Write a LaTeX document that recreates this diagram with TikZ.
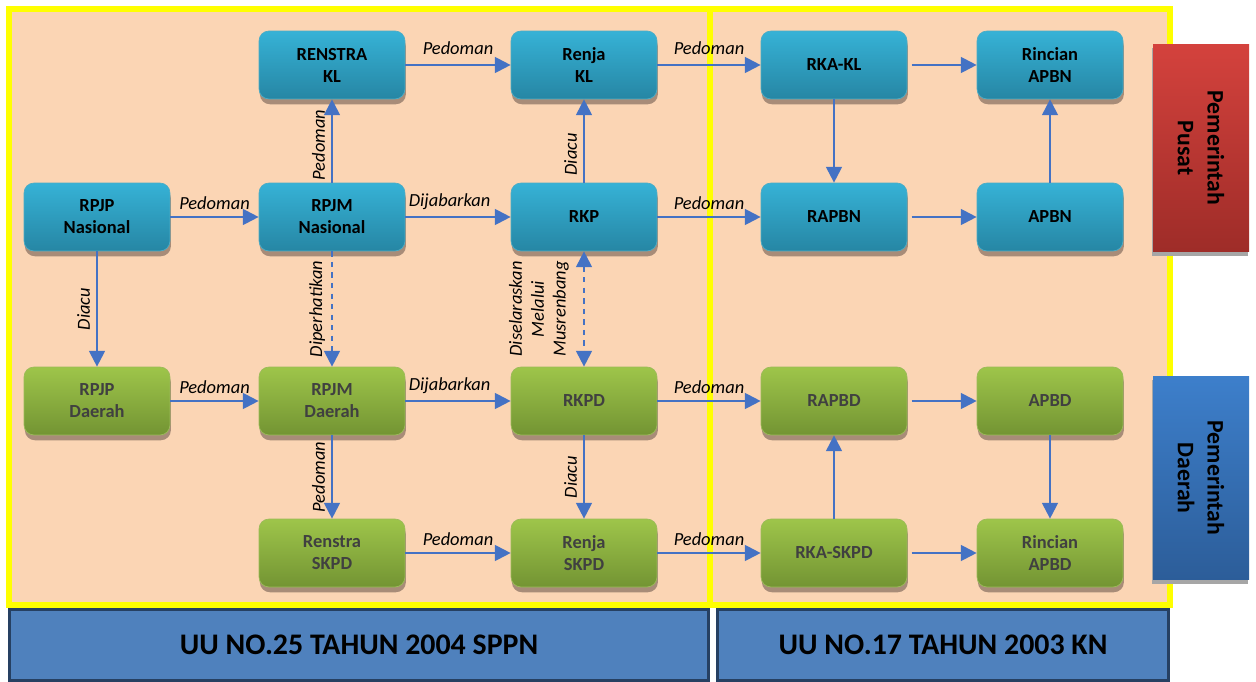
\documentclass[tikz,border=0pt]{standalone}
\usepackage{fontspec}
\setmainfont{Carlito}
\usetikzlibrary{arrows.meta,shadows}

\definecolor{peach}{RGB}{251,213,180}
\definecolor{frameyellow}{RGB}{255,255,0}
\definecolor{flowblue}{RGB}{68,114,196}
\definecolor{pusattop}{RGB}{54,178,214}
\definecolor{pusatbot}{RGB}{38,134,164}
\definecolor{pusatline}{RGB}{75,172,198}
\definecolor{daerahtop}{RGB}{158,197,74}
\definecolor{daerahbot}{RGB}{115,148,51}
\definecolor{daerahline}{RGB}{155,187,89}
\definecolor{textgray}{RGB}{64,64,64}
\definecolor{shadowbrown}{RGB}{168,140,120}
\definecolor{redtop}{RGB}{212,66,61}
\definecolor{redbot}{RGB}{158,44,40}
\definecolor{bluetop}{RGB}{61,127,203}
\definecolor{bluebot}{RGB}{44,93,153}
\definecolor{lawfill}{RGB}{79,129,189}
\definecolor{lawline}{RGB}{38,64,98}

\begin{document}
\begin{tikzpicture}[x=0.02cm, y=-0.02cm,
    box/.style={rounded corners=0.2cm, minimum width=2.92cm, minimum height=1.36cm,
        align=center, font=\bfseries\fontsize{10.5}{12.5}\selectfont,
        drop shadow={shadow xshift=0.5pt, shadow yshift=-3pt, fill=shadowbrown, opacity=1}},
    pusat/.style={box, top color=pusattop, bottom color=pusatbot, draw=pusatline, text=black},
    daerah/.style={box, top color=daerahtop, bottom color=daerahbot, draw=daerahline, text=textgray},
    flow/.style={draw=flowblue, line width=1.2pt, -{Triangle[length=9pt,width=9pt]}},
    lbl/.style={font=\itshape\fontsize{10.5}{12.5}\selectfont, text=black},
    side/.style={minimum width=1.92cm, font=\bfseries\fontsize{13.5}{17}\selectfont,
        drop shadow={shadow xshift=-0.5pt, shadow yshift=-2.5pt, fill=black!35, opacity=1}},
    lawbar/.style={fill=lawfill, draw=lawline, line width=0.06cm,
        font=\bfseries\fontsize{17}{20}\selectfont}]

    \useasboundingbox (0, 0) rectangle (1256, 682);

    % frame
    \fill[peach] (9, 9) rectangle (1170, 605);
    \draw[frameyellow, line width=0.12cm] (9, 9) rectangle (1170, 605);
    \draw[frameyellow, line width=0.12cm] (710, 9) -- (710, 605);

    % pusat
    \node[pusat] (renstrakl) at (332, 65) {RENSTRA\\KL};
    \node[pusat] (renjakl) at (584, 65) {Renja\\KL};
    \node[pusat] (rkakl) at (834, 65) {RKA-KL};
    \node[pusat] (rincianapbn) at (1050, 65) {Rincian\\APBN};
    \node[pusat] (rpjpnas) at (97, 217) {RPJP\\Nasional};
    \node[pusat] (rpjmnas) at (332, 217) {RPJM\\Nasional};
    \node[pusat] (rkp) at (584, 217) {RKP};
    \node[pusat] (rapbn) at (834, 217) {RAPBN};
    \node[pusat] (apbn) at (1050, 217) {APBN};

    % daerah
    \node[daerah] (rpjpdae) at (97, 401) {RPJP\\Daerah};
    \node[daerah] (rpjmdae) at (332, 401) {RPJM\\Daerah};
    \node[daerah] (rkpd) at (584, 401) {RKPD};
    \node[daerah] (rapbd) at (834, 401) {RAPBD};
    \node[daerah] (apbd) at (1050, 401) {APBD};
    \node[daerah] (renstraskpd) at (332, 553) {Renstra\\SKPD};
    \node[daerah] (renjaskpd) at (584, 553) {Renja\\SKPD};
    \node[daerah] (rkaskpd) at (834, 553) {RKA-SKPD};
    \node[daerah] (rincianapbd) at (1050, 553) {Rincian\\APBD};

    % arrows
    \draw[flow] (renstrakl) -- node[lbl, above, yshift=2pt] {Pedoman} (renjakl);
    \draw[flow] (renjakl) -- node[lbl, above, yshift=2pt] {Pedoman} (rkakl);
    \draw[flow, shorten <=2.5pt] (rkakl) -- (rincianapbn);
    \draw[flow] (rkakl) -- (rapbn);
    \draw[flow] (apbn) -- (rincianapbn);
    \draw[flow, shorten <=2.5pt] (rapbn) -- (apbn);

    \draw[flow] (rpjpnas) -- node[lbl, above] {Pedoman} (rpjmnas);
    \draw[flow] (rpjmnas) -- node[lbl, above, pos=0.42] {Dijabarkan} (rkp);
    \draw[flow] (rkp) -- node[lbl, above] {Pedoman} (rapbn);
    \draw[flow] (rpjmnas) -- node[lbl, pos=0.45, rotate=90, anchor=south] {Pedoman} (renstrakl);
    \draw[flow] (rkp) -- node[lbl, pos=0.34, rotate=90, anchor=south] {Diacu} (renjakl);

    \draw[flow] (rpjpnas) -- node[lbl, midway, rotate=90, anchor=south] {Diacu} (rpjpdae);
    \draw[flow, dashed] (rpjmnas) -- node[lbl, midway, rotate=90, anchor=south] {Diperhatikan} (rpjmdae);
    \draw[flow, dashed, {Triangle[length=9pt,width=9pt]}-{Triangle[length=9pt,width=9pt]}] (rkp) --
        node[lbl, midway, rotate=90, anchor=south, align=center, inner ysep=8pt] {Diselaraskan\\Melalui\\Musrenbang} (rkpd);

    \draw[flow] (rpjpdae) -- node[lbl, above] {Pedoman} (rpjmdae);
    \draw[flow] (rpjmdae) -- node[lbl, above, pos=0.42] {Dijabarkan} (rkpd);
    \draw[flow] (rkpd) -- node[lbl, above] {Pedoman} (rapbd);
    \draw[flow, shorten <=2.5pt] (rapbd) -- (apbd);
    \draw[flow] (apbd) -- (rincianapbd);
    \draw[flow] (rkaskpd) -- (rapbd);

    \draw[flow] (rpjmdae) -- node[lbl, midway, rotate=90, anchor=south] {Pedoman} (renstraskpd);
    \draw[flow] (rkpd) -- node[lbl, midway, rotate=90, anchor=south] {Diacu} (renjaskpd);
    \draw[flow] (renstraskpd) -- node[lbl, above] {Pedoman} (renjaskpd);
    \draw[flow] (renjaskpd) -- node[lbl, above] {Pedoman} (rkaskpd);
    \draw[flow, shorten <=2.5pt] (rkaskpd) -- (rincianapbd);

    % side labels
    \node[side, minimum height=4.16cm, top color=redtop, bottom color=redbot,
        label={[rotate=-90, align=center, font=\bfseries\fontsize{13.5}{17}\selectfont]center:Pemerintah\\Pusat}]
        (pusat) at (1201, 148) {};
    \node[side, minimum height=4.08cm, top color=bluetop, bottom color=bluebot,
        label={[rotate=-90, align=center, font=\bfseries\fontsize{13.5}{17}\selectfont]center:Pemerintah\\Daerah}]
        (daerah) at (1201, 478) {};

    % laws
    \node[lawbar, minimum width=13.98cm, minimum height=1.42cm] (sppn) at (359, 645) {UU NO.25 TAHUN 2004 SPPN};
    \node[lawbar, minimum width=9.02cm, minimum height=1.42cm] (kn) at (943, 645) {UU NO.17 TAHUN 2003 KN};
\end{tikzpicture}
\end{document}
